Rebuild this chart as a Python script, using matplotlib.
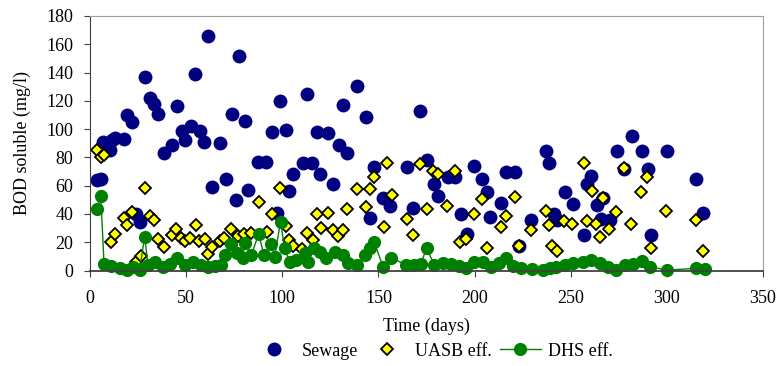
import matplotlib.pyplot as plt

plt.rcParams['font.family'] = ['Liberation Serif', 'DejaVu Serif']

# Sewage (day, BOD mg/l)
sew_day = [3.5, 5.8, 7, 10.5, 11.5, 13, 17.7, 19.2, 21.6, 24, 26, 28.5, 31.2, 33.5, 35.6,
           38.5, 42.4, 45.5, 47.6, 49.3, 52.5, 54.7, 57, 59.5, 61.6, 63.4, 67.7, 70.6,
           73.6, 75.8, 77.5, 80.5, 82.4, 87.6, 91.6, 94.7, 97, 98.7, 101.7, 103.7, 105.5,
           110.7, 112.6, 115.5, 117.8, 119.7, 123.7, 126.6, 129.7, 131.7, 133.6, 138.6,
           143.6, 145.5, 147.7, 152.5, 156, 164.6, 168, 171.7, 175, 178.7, 180.8, 186.2,
           189.7, 192.8, 196, 199.8, 203.8, 206.6, 208, 213.8, 216.5, 221, 223, 229.6,
           237, 238.9, 241.3, 243, 246.9, 251, 257, 258.6, 260.7, 263.5, 266, 266.8,
           270.4, 273.9, 277.9, 281.7, 286.9, 290, 292, 299.9, 315, 318.9]
sew_val = [64, 65, 91, 85, 92, 94, 93, 110, 105, 40, 34, 137, 122, 118, 111,
           83, 89, 116, 99, 92, 102, 139, 99, 91, 166, 59, 90, 65,
           111, 50, 152, 106, 57, 77, 77, 98, 41, 120, 99.5, 56, 68.5,
           76, 125, 75.8, 98, 68.5, 97, 61, 88.6, 117, 83, 130.5,
           108.6, 36.8, 73, 51, 45.5, 73, 44, 112.6, 78, 61.5, 53, 66.3,
           66.3, 40, 26, 74, 64.7, 55.7, 38, 48, 70, 70, 17, 35.7,
           84.8, 75.7, 40, 36, 55.7, 47, 25, 61, 66.5, 46.6, 36.6, 51,
           36, 84.6, 72, 95, 84.6, 72, 25, 84.6, 64.5, 41]

# UASB effluent
uasb_day = [3.4, 5.5, 7.5, 10.8, 12.8, 17.5, 19.5, 21.6, 24, 26.3, 28.5, 31.3, 33.5, 35.5,
            38.5, 42.5, 44.9, 47.5, 49.3, 51.8, 55, 56.5, 59.7, 61.5, 63.5, 67.4, 69.7,
            73.5, 77, 80, 83.9, 87.8, 92, 94.7, 98.7, 101.7, 103.5, 105.8, 110, 112.6,
            115.9, 117.8, 119.9, 123.7, 126.5, 129, 131.8, 133.6, 138.8, 143.6, 145.5,
            147.5, 152.7, 154.3, 156.8, 164.6, 167.9, 171.7, 175, 178.5, 181, 185.8,
            189.7, 192.5, 195.8, 199.8, 203.8, 206.7, 214, 216.5, 220.9, 223, 229.6,
            236.9, 238.8, 240.5, 242.9, 246.6, 250.9, 256.7, 258.6, 260.9, 263, 265,
            267, 269.8, 273.8, 277.8, 281.6, 286.8, 289.8, 292, 299.8, 314.9, 318.8]
uasb_val = [85, 80, 82, 20, 26, 37, 32, 41.5, 6, 10, 58.3, 38.5, 35.6, 22.6,
            16.8, 25.3, 29.3, 23, 21, 23, 32, 21, 22.5, 12, 16.4, 21, 23,
            29.3, 24.6, 25.8, 26.3, 48.2, 27, 40, 58.2, 31.7, 21.5, 17.2, 15, 26.3,
            21.8, 40, 30, 41, 28.6, 24.5, 28.4, 43.6, 57.5, 45, 57.3,
            66.3, 30.6, 75.8, 53.5, 36.1, 25, 75, 43.4, 70.6, 68, 45.5,
            70.6, 20.5, 22.6, 40, 50.6, 16.1, 31, 38.7, 52.2, 17.1, 28.8,
            41.8, 32.3, 17, 14.1, 35.1, 33, 75.8, 34.7, 56, 33, 24,
            51.4, 29.2, 41.7, 72.3, 33, 55.2, 65.9, 16, 42.1, 35.7, 14]

# DHS effluent
dhs_day = [3.6, 5.6, 7.3, 11.1, 15.4, 19.4, 22.4, 25.8, 28.4, 30.2, 33.6, 38, 41.5, 45.5,
           49.3, 53.6, 57.9, 61.4, 64.8, 68.3, 70, 73.5, 76.6, 79.6, 80.4, 83.9, 87.7,
           90.5, 94.3, 96, 99.1, 101.2, 103.8, 107.3, 111.6, 113.4, 116.5, 119.4, 122.9,
           127.2, 131.6, 134.2, 139, 142.9, 145.5, 147.7, 152.4, 156.7, 164.3, 168.6,
           172.1, 175, 179, 183.4, 187.7, 192, 195.5, 199.8, 204.2, 208.5, 212.9, 216.4,
           219.8, 224.2, 229.9, 235.5, 239, 242.4, 246.8, 251.1, 256.3, 260.7, 265,
           269.3, 273.7, 278, 282.4, 287.2, 291, 300, 315.4, 319.8]
dhs_val = [43.5, 53, 4.6, 3.4, 1.5, 0.3, 2.7, 0.3, 24, 3.9, 6.2, 2.7, 4.4, 8.6,
           3.9, 5.8, 3.9, 2.7, 3.4, 3.9, 11, 18.5, 12.2, 8.6, 19.2, 11, 25.6,
           11, 18.5, 9.8, 34.5, 15.7, 6.2, 7.4, 12.2, 6.2, 15.7, 13.3, 8.6,
           13.3, 11, 5.1, 3.9, 11, 15.7, 20.4, 2.7, 9.1, 3.9, 3.9,
           4.4, 16.1, 3.9, 5.1, 4.4, 3.4, 1.5, 5.8, 6.2, 2.7, 5.1, 9.1,
           3.4, 2, 1, 0.3, 1.5, 2.7, 3.9, 5.1, 6.2, 7.4, 5.1,
           2.7, 0.3, 3.9, 4.4, 6.7, 2.7, 0.3, 1.5, 1]

fig = plt.figure(figsize=(7.8, 3.66), dpi=100)
ax = fig.add_axes([90/780, 1-270.5/366, 673/780, 254.5/366])

ax.plot(sew_day, sew_val, 'o', color='#000080', ms=10, mew=0, label='Sewage', clip_on=False)
ax.plot(uasb_day, uasb_val, 'D', color='#FFFF00', mec='black', ms=6.5, mew=1.3,
        label='UASB eff.', clip_on=False)
ax.plot(dhs_day, dhs_val, '-o', color='#008000', ms=9.5, mew=0, lw=1,
        label='DHS eff.', clip_on=False)

ax.set_xlim(0, 350)
ax.set_ylim(0, 180)
ax.set_xticks(range(0, 351, 50))
ax.set_yticks(range(0, 181, 20))
ax.tick_params(labelsize=13, direction='out', length=4, color='#404040')
ax.tick_params(axis='x', pad=10)
ax.tick_params(axis='y', pad=8)
ax.spines['top'].set_color('#a0a0a0')
ax.spines['right'].set_color('#a0a0a0')
ax.spines['left'].set_color('#404040')
ax.spines['bottom'].set_color('#404040')
ax.spines['bottom'].set_linewidth(1.3)
ax.set_xlabel('Time (days)', fontsize=13, labelpad=8)
ax.set_ylabel('BOD soluble (mg/l)', fontsize=13, labelpad=11)

fig.legend(loc='center', bbox_to_anchor=(433/780, 1-351/366), ncol=3, frameon=False,
           fontsize=13, handletextpad=0.4, columnspacing=0.45, handlelength=2.3)

fig.savefig('out.png', dpi=100)
